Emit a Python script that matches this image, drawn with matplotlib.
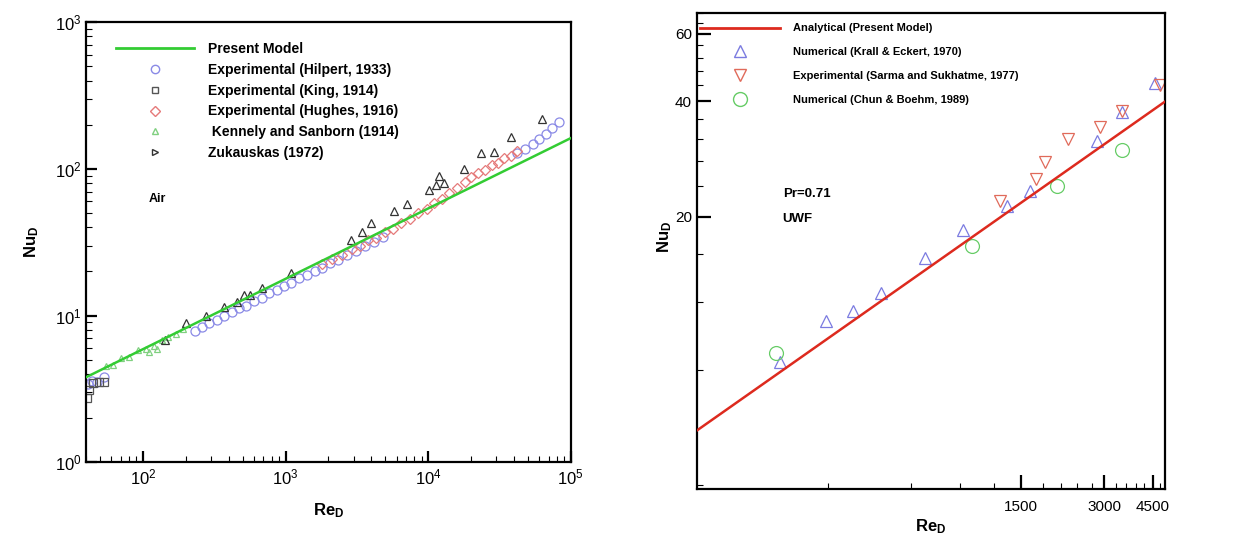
import numpy as np
import matplotlib
matplotlib.use("Agg")
import matplotlib.pyplot as plt
from matplotlib.lines import Line2D
from matplotlib.ticker import FixedLocator, NullFormatter, FixedFormatter, LogLocator, LogFormatterMathtext

plt.rcParams['font.family'] = ['Liberation Sans', 'DejaVu Sans']
plt.rcParams['mathtext.fontset'] = 'custom'
plt.rcParams['mathtext.rm'] = 'Liberation Sans'
plt.rcParams['mathtext.bf'] = 'Liberation Sans:bold'
plt.rcParams['mathtext.it'] = 'Liberation Sans:italic'

# ---------------- left panel: air, wide Re range ----------------
model_re = [40, 1e5]
model_nu = [3.8, 162]

hilpert_re = [41, 44, 48, 53, 230, 260, 290, 330, 370, 420, 470, 530, 600, 680, 770, 870,
              980, 1100, 1250, 1420, 1600, 1800, 2050, 2350, 2700, 3100, 3600, 4200, 4800,
              42000, 48000, 54000, 60000, 67000, 74000, 83000]
hilpert_nu = [3.4, 3.6, 3.5, 3.8, 7.9, 8.3, 8.9, 9.3, 10.0, 10.5, 11.3, 11.7, 12.6, 13.2, 14.2, 14.9,
              16.0, 16.7, 17.9, 18.9, 20.2, 21.1, 22.8, 23.9, 26.0, 27.4, 29.8, 31.7, 34.2,
              128, 137, 148, 160, 172, 190, 210]

king_re = [40.5, 42, 45, 49, 53]
king_nu = [2.75, 3.1, 3.45, 3.5, 3.55]

hughes_re = [1800, 2100, 2500, 2900, 3300, 3800, 4300, 5000, 5700, 6500, 7500, 8500, 9800,
             11000, 12500, 14000, 16000, 18000, 20000, 22500, 25000, 28000, 31000, 34000, 38000, 42000]
hughes_nu = [22.4, 24.3, 25.8, 28.2, 29.6, 32.5, 34.0, 37.0, 39.2, 42.8, 45.6, 49.9, 53.5,
             58.5, 62.5, 68.5, 73.5, 81, 88, 93, 98, 106, 110, 118, 123, 132]

kennely_re = [55, 62, 70, 80, 92, 105, 110, 120, 125, 135, 150, 170, 190]
kennely_nu = [4.5, 4.6, 5.1, 5.2, 5.8, 5.9, 5.6, 6.2, 5.9, 6.8, 7.1, 7.5, 8.1]

zuk_re = [142, 202, 279, 373, 453, 515, 560, 689, 1096, 2880, 3440, 3980, 5770, 7100,
          10100, 11300, 12900, 11900, 17800, 23400, 28900, 37900, 62500]
zuk_nu = [6.8, 8.9, 10.0, 11.4, 12.3, 13.7, 13.9, 15.3, 19.4, 32.6, 37.0, 42.6, 52, 58,
          71.5, 77, 80, 90, 100, 128, 131, 164, 218]

left_labels = ['Present Model', 'Experimental (Hilpert, 1933)', 'Experimental (King, 1914)',
               'Experimental (Hughes, 1916)', ' Kennely and Sanborn (1914)', 'Zukauskas (1972)']

# ---------------- right panel: Pr=0.71, UWF ----------------
analytical_re = [100, 5000]
analytical_nu = [5.55, 40]

krall_re = [200, 293, 367, 467, 672, 921, 1330, 1617, 2828, 3484, 4600]
krall_nu = [8.36, 10.7, 11.4, 12.7, 15.6, 18.5, 21.4, 23.4, 31.6, 37.5, 44.6]

sarma_re = [1258, 1697, 1833, 2210, 2907, 3484, 4800]
sarma_nu = [22.0, 25.1, 27.8, 31.9, 34.2, 37.7, 44.0]

chun_re = [194, 993, 2022, 3484]
chun_nu = [8.86, 16.8, 24.0, 29.9]

right_labels = ['Analytical (Present Model)', 'Numerical (Krall & Eckert, 1970)',
                'Experimental (Sarma and Sukhatme, 1977)', 'Numerical (Chun & Boehm, 1989)']

fig = plt.figure(figsize=(12.49, 5.4), dpi=100)

# left
ax1 = fig.add_axes([0.069, 0.144, 0.388, 0.815])
ax1.plot(model_re, model_nu, color='#33cc33', lw=1.8, zorder=3)
ax1.plot(hilpert_re, hilpert_nu, 'o', mfc='none', mec='#8a8ae6', ms=6.5, mew=0.9)
ax1.plot(king_re, king_nu, 's', mfc='none', mec='#555555', ms=5.5, mew=0.9)
ax1.plot(hughes_re, hughes_nu, 'D', mfc='none', mec='#e57a7a', ms=5, mew=0.9)
ax1.plot(kennely_re, kennely_nu, '^', mfc='none', mec='#80d080', ms=5, mew=0.9)
ax1.plot(zuk_re, zuk_nu, '^', mfc='none', mec='#333333', ms=5.5, mew=0.9)
ax1.set_xscale('log')
ax1.set_yscale('log')
ax1.set_xlim(40, 1e5)
ax1.set_ylim(1, 1000)
ax1.xaxis.set_major_locator(LogLocator(base=10, numticks=10))
ax1.yaxis.set_major_locator(LogLocator(base=10, numticks=10))
ax1.xaxis.set_major_formatter(LogFormatterMathtext())
ax1.yaxis.set_major_formatter(LogFormatterMathtext())
ax1.tick_params(which='both', direction='in', top=False, right=False, labelsize=12)
ax1.tick_params(which='major', length=8, width=1.6)
ax1.tick_params(which='minor', length=4, width=0.8)
for s in ax1.spines.values():
    s.set_linewidth(1.6)
ax1.set_xlabel(r'$\mathbf{Re_D}$', fontsize=12, labelpad=10)
ax1.set_ylabel(r'$\mathbf{Nu_D}$', fontsize=12, labelpad=10)
ax1.text(0.128, 0.598, 'Air', transform=ax1.transAxes, fontsize=9, fontweight='bold', va='center')

h1 = [Line2D([], [], color='#33cc33', lw=2),
      Line2D([], [], ls='none', marker='o', mfc='none', mec='#8a8ae6', ms=6),
      Line2D([], [], ls='none', marker='s', mfc='none', mec='#555555', ms=5),
      Line2D([], [], ls='none', marker='D', mfc='none', mec='#e57a7a', ms=5),
      Line2D([], [], ls='none', marker='^', mfc='none', mec='#80d080', ms=5),
      Line2D([], [], ls='none', marker='>', mfc='none', mec='#333333', ms=5)]
ax1.legend(h1, left_labels, loc='upper left', bbox_to_anchor=(0.062, 0.955), frameon=False,
           borderaxespad=0, borderpad=0, handlelength=5.6, handletextpad=1.0,
           labelspacing=0.49, prop={'weight': 'bold', 'size': 10})

# right
ax2 = fig.add_axes([0.558, 0.094, 0.375, 0.882])
ax2.plot(analytical_re, analytical_nu, color='#dd2a1e', lw=1.8, zorder=3)
ax2.plot(krall_re, krall_nu, '^', mfc='none', mec='#7b7be0', ms=9, mew=0.9)
ax2.plot(sarma_re, sarma_nu, 'v', mfc='none', mec='#e06a5a', ms=9, mew=0.9)
ax2.plot(chun_re, chun_nu, 'o', mfc='none', mec='#66cc66', ms=10, mew=0.9)
ax2.set_xscale('log')
ax2.set_yscale('log')
ax2.set_xlim(100, 5000)
ax2.set_ylim(3.9, 68)
ax2.xaxis.set_major_locator(FixedLocator([1500, 3000, 4500]))
ax2.xaxis.set_major_formatter(FixedFormatter(['1500', '3000', '4500']))
ax2.xaxis.set_minor_locator(FixedLocator([v for v in range(300, 5000, 300) if v % 1500]))
ax2.xaxis.set_minor_formatter(NullFormatter())
ax2.yaxis.set_major_locator(FixedLocator([20, 40, 60]))
ax2.yaxis.set_major_formatter(FixedFormatter(['20', '40', '60']))
ax2.yaxis.set_minor_locator(FixedLocator([v for v in range(4, 69, 4) if v % 20]))
ax2.yaxis.set_minor_formatter(NullFormatter())
ax2.tick_params(which='both', direction='in', top=False, right=False)
ax2.tick_params(which='major', length=10, width=1.6, labelsize=11)
ax2.tick_params(axis='x', which='major', pad=8)
ax2.tick_params(which='minor', length=4, width=0.8)
for s in ax2.spines.values():
    s.set_linewidth(1.6)
ax2.set_xlabel(r'$\mathbf{Re_D}$', fontsize=12, labelpad=2)
ax2.set_ylabel(r'$\mathbf{Nu_D}$', fontsize=12)
ax2.yaxis.set_label_coords(-0.048, 0.53)
ax2.text(0.183, 0.62, 'Pr=0.71', transform=ax2.transAxes, fontsize=9.5, fontweight='bold', va='center')
ax2.text(0.183, 0.567, 'UWF', transform=ax2.transAxes, fontsize=9.5, fontweight='bold', va='center')

h2 = [Line2D([], [], color='#dd2a1e', lw=2),
      Line2D([], [], ls='none', marker='^', mfc='none', mec='#7b7be0', ms=9),
      Line2D([], [], ls='none', marker='v', mfc='none', mec='#e06a5a', ms=9),
      Line2D([], [], ls='none', marker='o', mfc='none', mec='#66cc66', ms=10)]
ax2.legend(h2, right_labels, loc='upper left', bbox_to_anchor=(0.006, 0.978), frameon=False,
           borderaxespad=0, borderpad=0, handlelength=7.2, handletextpad=1.17,
           labelspacing=1.24, prop={'weight': 'bold', 'size': 8})

fig.savefig('out.png', dpi=100)
